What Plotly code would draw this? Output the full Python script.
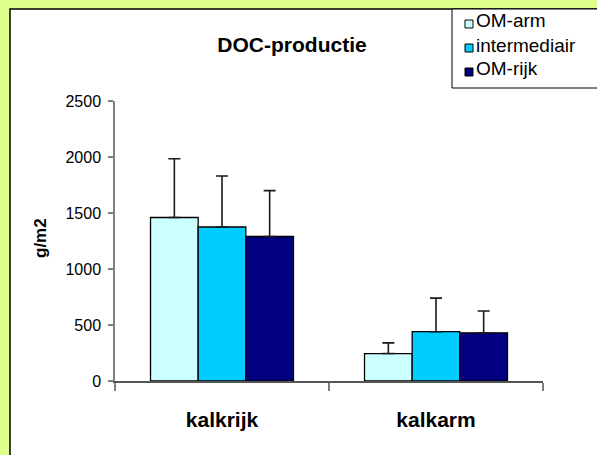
import plotly.graph_objects as go

# --- data -----------------------------------------------------------------
categories = ["kalkrijk", "kalkarm"]
series_names = ["OM-arm", "intermediair", "OM-rijk"]
om_arm = [1460, 245]
om_arm_err = [525, 95]
intermediair = [1375, 440]
intermediair_err = [455, 300]
om_rijk = [1290, 430]
om_rijk_err = [410, 195]
y_ticks = [0, 500, 1000, 1500, 2000, 2500]

values = [om_arm, intermediair, om_rijk]
errors = [om_arm_err, intermediair_err, om_rijk_err]
colors = ["#CCFFFF", "#00CCFF", "#000080"]

FONT = "Liberation Sans, Arial, sans-serif"
W, H = 597, 455
L, R, T, B = 115, 54, 101, 74
PW, PH = W - L - R, H - T - B


def px(x):
    """pixel x -> paper x"""
    return (x - L) / PW


def py(y):
    """pixel y (from top) -> paper y"""
    return (H - B - y) / PH


fig = go.Figure()
for name, vals, errs, col in zip(series_names, values, errors, colors):
    fig.add_trace(go.Bar(
        x=categories, y=vals, name=name, showlegend=False,
        marker=dict(color=col, line=dict(color="#000000", width=1.3)),
        error_y=dict(type="data", array=errs, arrayminus=[0] * len(errs),
                     symmetric=False, color="#1a1a1a", thickness=1.6, width=6),
    ))

shapes = [
    # white chart panel with dark frame
    dict(type="rect", xref="paper", yref="paper", layer="below",
         x0=px(10), x1=px(W + 20), y0=py(H + 20), y1=py(9),
         fillcolor="#FFFFFF", line=dict(color="#000000", width=1.5)),
    # legend box
    dict(type="rect", xref="paper", yref="paper",
         x0=px(452), x1=px(W + 20), y0=py(88), y1=py(9),
         fillcolor="#FFFFFF", line=dict(color="#000000", width=1)),
]
annotations = []
row_y = [21, 45, 69]
for name, col, ry in zip(series_names, colors, row_y):
    shapes.append(dict(type="rect", xref="paper", yref="paper",
                       x0=px(465), x1=px(473), y0=py(ry + 7), y1=py(ry - 1),
                       fillcolor=col, line=dict(color="#000000", width=1)))
    annotations.append(dict(text=name, xref="paper", yref="paper",
                            x=px(474), y=py(ry), xanchor="left", yanchor="middle",
                            showarrow=False,
                            font=dict(family=FONT, size=19, color="#000000")))

# y-axis title
annotations.append(dict(text="g/m2", xref="paper", yref="paper",
                        x=px(40), y=py(238), textangle=-90,
                        xanchor="center", yanchor="middle", showarrow=False,
                        font=dict(family=FONT, size=17, weight="bold", color="#000000")))

fig.update_layout(
    width=W, height=H, autosize=False,
    margin=dict(l=L, r=R, t=T, b=B, pad=0),
    paper_bgcolor="#DDFF8C", plot_bgcolor="#FFFFFF",
    barmode="group", bargap=0.332, bargroupgap=0,
    title=dict(text="<b>DOC-productie</b>", xref="paper", x=px(292),
               xanchor="center", yref="container", y=1 - 45 / H, yanchor="middle",
               font=dict(family=FONT, size=21, color="#000000")),
    shapes=shapes, annotations=annotations,
    xaxis=dict(range=[-0.5, 1.5], showline=True, linecolor="#555555", linewidth=1.5,
               ticks="outside", tickson="boundaries", ticklen=8, tickcolor="#808080",
               tickwidth=1.5, showgrid=False, zeroline=False, ticklabelstandoff=19,
               tickfont=dict(family=FONT, size=21, weight="bold", color="#000000")),
    yaxis=dict(range=[0, 2500], tickvals=y_ticks, showline=True, linecolor="#808080",
               linewidth=1.5, ticks="outside", ticklen=5, tickcolor="#808080",
               tickwidth=1.5, showgrid=False, zeroline=False, ticklabelstandoff=4,
               tickfont=dict(family=FONT, size=16, color="#000000")),
)

fig.write_html("out.html")
